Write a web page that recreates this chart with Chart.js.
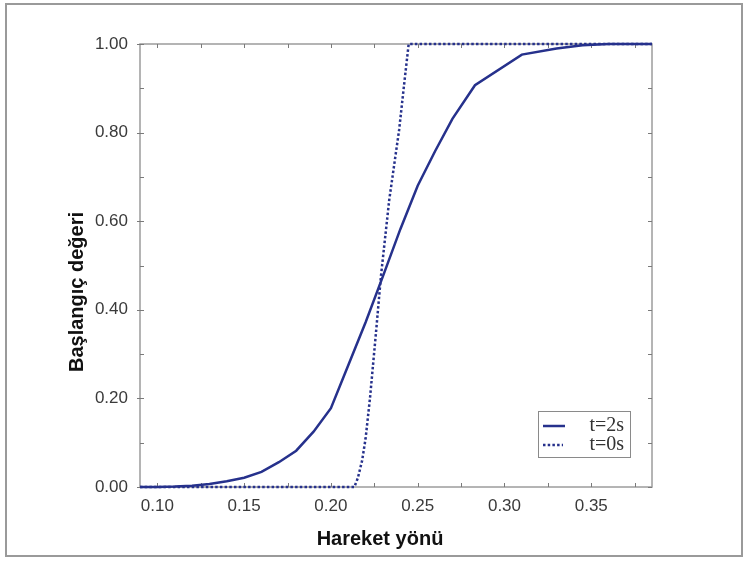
<!DOCTYPE html>
<html>
<head>
<meta charset="utf-8">
<title>Başlangıç değeri</title>
<script src="https://cdn.jsdelivr.net/npm/chart.js@4.4.1/dist/chart.umd.min.js"></script>
<style>
  html, body { margin: 0; padding: 0; background: #fff; }
  #wrap { position: relative; width: 748px; height: 562px; overflow: hidden; }
  #frame {
    position: absolute; left: 5px; top: 3px; width: 734px; height: 550px;
    border: 2px solid #9a9a9a; pointer-events: none;
  }
  #chart { position: absolute; left: 0; top: 0; }
</style>
</head>
<body>
<div id="wrap">
  <canvas id="chart" width="748" height="562"></canvas>
  <div id="frame"></div>
</div>
<script>
/* Curve data */

// t=2s (solid)
const solidX = [0.09, 0.10, 0.11, 0.12, 0.13, 0.14, 0.15, 0.16, 0.17, 0.18, 0.19, 0.20,
                0.21, 0.22, 0.23, 0.24, 0.25, 0.26, 0.27, 0.283, 0.31, 0.33, 0.345, 0.36, 0.385];
const solidY = [0, 0, 0.001, 0.003, 0.007, 0.013, 0.021, 0.034, 0.056, 0.082, 0.125, 0.178,
                0.275, 0.372, 0.476, 0.582, 0.680, 0.758, 0.831, 0.907, 0.976, 0.990, 0.997, 1.0, 1.0];

// t=0s (dotted)
const dottedX = [0.09, 0.2135, 0.2155, 0.218, 0.220, 0.2225, 0.226, 0.2288, 0.2336, 0.2393, 0.2425, 0.2448, 0.385];
const dottedY = [0, 0, 0.02, 0.06, 0.11, 0.20, 0.35, 0.475, 0.648, 0.806, 0.92, 1.0, 1.0];

// axis ticks
const xTickValues = [0.10, 0.15, 0.20, 0.25, 0.30, 0.35];
const yTickValues = [0.00, 0.20, 0.40, 0.60, 0.80, 1.00];
const xMinorTicks = [0.125, 0.175, 0.225, 0.275, 0.325, 0.375];
const yMinorTicks = [0.1, 0.3, 0.5, 0.7, 0.9];

const seriesLabels = ['t=2s', 't=0s'];
const xTitle = 'Hareket yönü';
const yTitle = 'Başlangıç değeri';

const lineColor = '#26318c';
const solidDash = [];
const dottedDash = [2.5, 2.2];

const toPoints = (xs, ys) => xs.map((x, i) => ({ x, y: ys[i] }));

/** Axes box with inward ticks on all four sides (matplotlib classic look). */
const framePlugin = {
  id: 'frame',
  beforeDatasetsDraw(chart) {
    const { ctx, chartArea: a, scales: { x, y } } = chart;
    ctx.save();
    ctx.strokeStyle = '#9c9c9c';
    ctx.lineWidth = 1.5;
    ctx.strokeRect(a.left, a.top, a.right - a.left, a.bottom - a.top);

    ctx.strokeStyle = '#7a7a7a';
    ctx.lineWidth = 1;
    ctx.beginPath();
    xTickValues.concat(xMinorTicks).forEach(v => {
      const px = Math.round(x.getPixelForValue(v)) + 0.5;
      ctx.moveTo(px, a.bottom); ctx.lineTo(px, a.bottom - 4);
      ctx.moveTo(px, a.top); ctx.lineTo(px, a.top + 4);
    });
    yTickValues.concat(yMinorTicks).forEach(v => {
      const py = Math.round(y.getPixelForValue(v)) + 0.5;
      ctx.moveTo(a.left, py); ctx.lineTo(a.left + 4, py);
      ctx.moveTo(a.right, py); ctx.lineTo(a.right - 4, py);
    });
    // small outward stubs next to the left labels
    yTickValues.forEach(v => {
      const py = Math.round(y.getPixelForValue(v)) + 0.5;
      ctx.moveTo(a.left - 3, py); ctx.lineTo(a.left, py);
    });
    ctx.stroke();
    ctx.restore();
  }
};

/** Axis titles and the boxed legend in the lower right corner. */
const labelsPlugin = {
  id: 'labels',
  afterDraw(chart) {
    const { ctx } = chart;
    ctx.save();
    ctx.fillStyle = '#111';
    ctx.font = 'bold 20px "Liberation Sans", Arial, sans-serif';
    ctx.textAlign = 'center';
    ctx.textBaseline = 'middle';
    ctx.fillText(xTitle, 380, 539);

    ctx.translate(77, 292);
    ctx.rotate(-Math.PI / 2);
    ctx.fillText(yTitle, 0, 0);
    ctx.restore();

    // legend box
    const bx = 538, by = 411, bw = 92, bh = 46;
    ctx.save();
    ctx.fillStyle = '#fff';
    ctx.fillRect(bx, by, bw, bh);
    ctx.strokeStyle = '#8a8a8a';
    ctx.lineWidth = 1;
    ctx.strokeRect(bx + 0.5, by + 0.5, bw, bh);

    const rows = [
      { label: seriesLabels[0], dash: solidDash, y: by + 15, x1: bx + 5, x2: bx + 27 },
      { label: seriesLabels[1], dash: dottedDash, y: by + 34, x1: bx + 5, x2: bx + 25 }
    ];
    rows.forEach(r => {
      ctx.strokeStyle = lineColor;
      ctx.lineWidth = 2.5;
      ctx.setLineDash(r.dash);
      ctx.beginPath();
      ctx.moveTo(r.x1, r.y);
      ctx.lineTo(r.x2, r.y);
      ctx.stroke();
      ctx.setLineDash([]);
      ctx.fillStyle = '#333';
      ctx.font = '20px "Liberation Serif", "Times New Roman", serif';
      ctx.textAlign = 'right';
      ctx.textBaseline = 'middle';
      ctx.fillText(r.label, bx + bw - 6, r.y);
    });
    ctx.restore();
  }
};

const tickFont = { family: '"Liberation Sans", Arial, sans-serif', size: 17 };

new Chart(document.getElementById('chart'), {
  type: 'scatter',
  data: {
    datasets: [
      {
        label: seriesLabels[0],
        data: toPoints(solidX, solidY),
        showLine: true,
        borderColor: lineColor,
        borderWidth: 2.5,
        borderDash: solidDash,
        pointRadius: 0,
        clip: false,
        order: 0
      },
      {
        label: seriesLabels[1],
        data: toPoints(dottedX, dottedY),
        showLine: true,
        borderColor: lineColor,
        borderWidth: 2.5,
        borderDash: dottedDash,
        borderCapStyle: 'butt',
        pointRadius: 0,
        clip: false,
        order: 1
      }
    ]
  },
  options: {
    responsive: false,
    animation: false,
    layout: { padding: { top: 44, right: 96, left: 0, bottom: 0 } },
    plugins: {
      legend: { display: false },
      tooltip: { enabled: false }
    },
    scales: {
      x: {
        type: 'linear',
        min: 0.09,
        max: 0.385,
        grid: { display: false },
        border: { display: false },
        afterBuildTicks: (scale) => { scale.ticks = xTickValues.map(v => ({ value: v })); },
        afterFit: (scale) => { scale.height = 75; },
        ticks: {
          autoSkip: false,
          maxRotation: 0,
          padding: 1,
          color: '#3a3a3a',
          font: tickFont,
          callback: (v) => Number(v).toFixed(2)
        }
      },
      y: {
        type: 'linear',
        min: 0,
        max: 1,
        grid: { display: false },
        border: { display: false },
        afterBuildTicks: (scale) => { scale.ticks = yTickValues.map(v => ({ value: v })); },
        afterFit: (scale) => { scale.width = 140; },
        ticks: {
          autoSkip: false,
          padding: 4,
          color: '#3a3a3a',
          font: tickFont,
          callback: (v) => Number(v).toFixed(2)
        }
      }
    }
  },
  plugins: [framePlugin, labelsPlugin]
});
</script>
</body>
</html>
